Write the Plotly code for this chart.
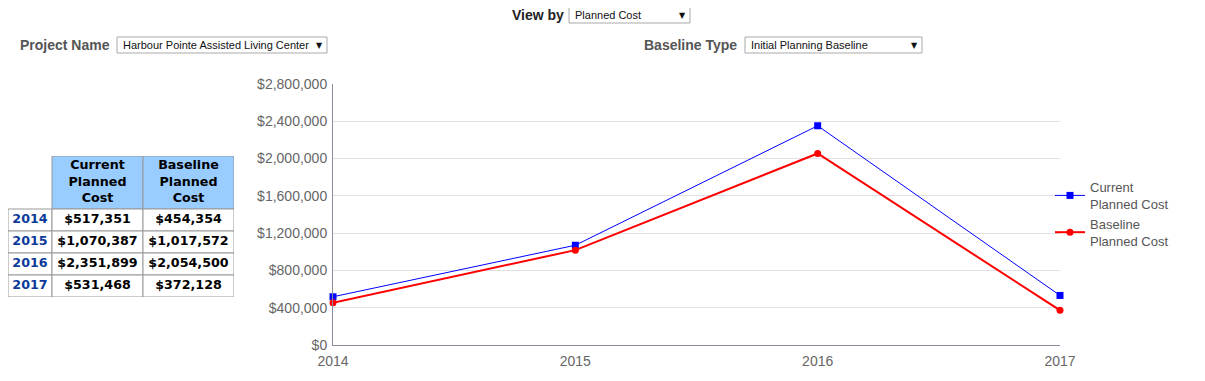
import plotly.graph_objects as go

years = [2014, 2015, 2016, 2017]
current_cost = [517351, 1070387, 2351899, 531468]
baseline_cost = [454354, 1017572, 2054500, 372128]
series_names = ["Current<br>Planned Cost", "Baseline<br>Planned Cost"]
table_headers = ["", "Current<br>Planned<br>Cost", "Baseline<br>Planned<br>Cost"]
y_ticks = [0, 400000, 800000, 1200000, 1600000, 2000000, 2400000, 2800000]

# page body has an 8px default margin; size the figure to fit inside the window
OFF = 8
W, H = 1205 - 2 * OFF, 381 - 2 * OFF


def px(x):
    return (x - OFF) / W


def py(y):
    return 1 - (y - OFF) / H


fig = go.Figure()

fig.add_trace(go.Scatter(
    x=years, y=current_cost, name=series_names[0], mode="lines+markers",
    line=dict(color="#0000ff", width=1),
    marker=dict(symbol="square", size=7, color="#0000ff"),
    cliponaxis=False,
))
fig.add_trace(go.Scatter(
    x=years, y=baseline_cost, name=series_names[1], mode="lines+markers",
    line=dict(color="#ff0000", width=2),
    marker=dict(symbol="circle", size=7, color="#ff0000"),
    cliponaxis=False,
))

# ---- data table drawn on an auxiliary pixel-scaled axis pair (x2, y2) ----
col_edges = [0, 44, 135, 226]
row_edges = [0, 53, 75, 97, 119, 141]
shapes = []
annotations = []

table_cols = [
    [str(y) for y in years],
    [f"${v:,}" for v in current_cost],
    [f"${v:,}" for v in baseline_cost],
]
col_colors = ["#0b3a9a", "#000000", "#000000"]

for c in range(3):
    cx = (col_edges[c] + col_edges[c + 1]) / 2
    if c > 0:
        shapes.append(dict(type="rect", xref="x2", yref="y2", layer="below",
                           x0=col_edges[c], x1=col_edges[c + 1], y0=row_edges[0], y1=row_edges[1],
                           fillcolor="#99ccff", line=dict(color="#999999", width=1)))
    for r in range(len(years)):
        shapes.append(dict(type="rect", xref="x2", yref="y2", layer="below",
                           x0=col_edges[c], x1=col_edges[c + 1], y0=row_edges[r + 1], y1=row_edges[r + 2],
                           fillcolor="white", line=dict(color="#999999", width=1)))
    fig.add_trace(go.Scatter(
        x=[cx], y=[row_edges[1] / 2], text=[f"<b>{table_headers[c]}</b>"],
        mode="text", xaxis="x2", yaxis="y2", showlegend=False, hoverinfo="skip",
        textfont=dict(family="DejaVu Sans", size=12.7, color="#000000"),
    ))
    fig.add_trace(go.Scatter(
        x=[cx] * len(years),
        y=[(row_edges[r + 1] + row_edges[r + 2]) / 2 for r in range(len(years))],
        text=[f"<b>{t}</b>" for t in table_cols[c]],
        mode="text", xaxis="x2", yaxis="y2", showlegend=False, hoverinfo="skip",
        textfont=dict(family="DejaVu Sans", size=12.7, color=col_colors[c]),
    ))


def select_box(x0, x1, y0, y1, text):
    shapes.append(dict(type="rect", xref="paper", yref="paper",
                       x0=px(x0), x1=px(x1), y0=py(y1), y1=py(y0),
                       line=dict(color="#a9a9a9", width=1), fillcolor="white"))
    annotations.append(dict(xref="paper", yref="paper", x=px(x0 + 4), y=py((y0 + y1) / 2),
                            text=text, showarrow=False, xanchor="left", yanchor="middle",
                            font=dict(family="Liberation Sans Narrow, Arial Narrow, Liberation Sans", size=11, color="#111111")))
    annotations.append(dict(xref="paper", yref="paper", x=px(x1 - 8), y=py((y0 + y1) / 2),
                            text="▼", showarrow=False, xanchor="center", yanchor="middle",
                            font=dict(family="DejaVu Sans", size=8, color="#111111")))


def label(x_right, y, text, color):
    annotations.append(dict(xref="paper", yref="paper", x=px(x_right), y=py(y),
                            text=f"<b>{text}</b>", showarrow=False, xanchor="right", yanchor="middle",
                            font=dict(family="Liberation Sans, Arial", size=14, color=color)))


label(566, 15, "View by", "#222222")
select_box(569, 690, 7, 23, "Planned Cost")
label(112, 45, "Project Name", "#555555")
select_box(117, 327, 37, 53, "Harbour Pointe Assisted Living Center")
label(739, 45, "Baseline Type", "#555555")
select_box(745, 922, 37, 53, "Initial Planning Baseline")

tick_font = dict(family="Liberation Sans, Arial", size=14, color="#666666")

fig.update_layout(
    width=W, height=H,
    margin=dict(l=0, r=0, t=0, b=0, autoexpand=False),
    paper_bgcolor="white", plot_bgcolor="white",
    xaxis=dict(
        domain=[px(333), px(1060)], range=[2014, 2017], tickvals=years,
        showgrid=False, showline=True, linecolor="#8a8aa0", linewidth=1,
        ticks="", tickfont=tick_font, zeroline=False, fixedrange=True, automargin=False,
        ticklabelstandoff=3,
    ),
    yaxis=dict(
        domain=[py(345), py(84)], range=[0, 2800000], tickvals=y_ticks,
        ticktext=[f"${v:,}" for v in y_ticks],
        showgrid=True, gridcolor="#e0e0e6", showline=True, linecolor="#8a8aa0",
        linewidth=1, zeroline=False, ticks="", tickfont=tick_font,
        fixedrange=True, automargin=False, ticklabelstandoff=2,
    ),
    xaxis2=dict(domain=[px(8), px(234)], range=[0, 226], visible=False, fixedrange=True,
                anchor="y2"),
    yaxis2=dict(domain=[py(297), py(156)], range=[141, 0], visible=False, fixedrange=True,
                anchor="x2"),
    shapes=shapes, annotations=annotations,
    showlegend=True,
    legend=dict(x=px(1050), y=py(214), xanchor="left", yanchor="middle",
                font=dict(family="Liberation Sans, Arial", size=13, color="#555555"),
                bgcolor="rgba(0,0,0,0)", itemwidth=30, tracegroupgap=0),
)

fig.write_html("out.html")
